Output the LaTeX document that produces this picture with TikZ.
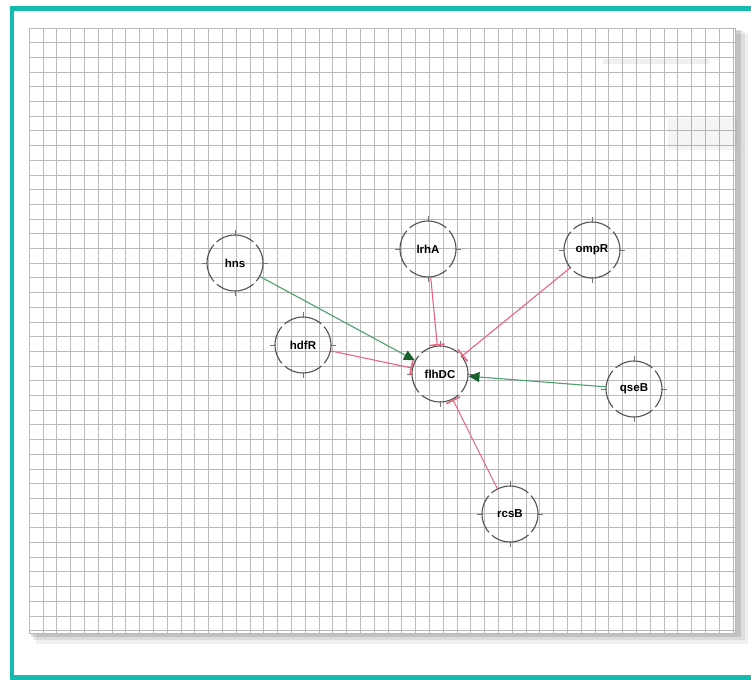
\documentclass[tikz,border=0pt]{standalone}
\usepackage{fontspec}
\setmainfont{Liberation Sans}
\usetikzlibrary{arrows.meta}

\definecolor{frameteal}{RGB}{22,186,174}
\definecolor{gridline}{RGB}{185,185,185}
\definecolor{ringgray}{RGB}{80,80,80}
\definecolor{actgreen}{RGB}{78,160,108}
\definecolor{tipgreen}{RGB}{24,96,44}
\definecolor{inhred}{RGB}{236,100,126}

\begin{document}
\begin{tikzpicture}[x=1pt,y=-1pt,
  gene/.style={circle, minimum size=56pt, inner sep=0pt, draw=ringgray,
    line width=1.1pt, dash pattern=on 40pt off 4pt, dash phase=20pt,
    font=\bfseries\fontsize{11.5}{11.5}\selectfont},
  tick/.style={draw=ringgray!80, line width=0.8pt},
  activates/.style={draw=actgreen, line width=1.1pt,
    -{Triangle[length=11pt,width=10pt,color=tipgreen,fill=tipgreen]}},
  represses/.style={draw=inhred, line width=1.1pt,
    -{Bar[width=15pt,line width=1.6pt]}},
  gridrule/.style={draw=gridline, line width=0.9pt},
]
% page and outer frame
\useasboundingbox[fill=white] (0,0) rectangle (751,679);
\draw[frameteal, line width=4.5pt] (12,8.5) rectangle (770,677.5);

% drop shadow of the sheet
\fill[black, opacity=0.06] (36,34) rectangle (748,644);
\fill[black, opacity=0.08] (33,31) rectangle (745,640);
\fill[black, opacity=0.12] (31,30) rectangle (741,637);

% grid sheet
\fill[white] (29,28) rectangle (735,633);
\foreach \i in {0,...,50}
  \draw[gridrule] ({43+13.8*\i},28) -- ({43+13.8*\i},633);
\foreach \j in {0,...,40}
  \draw[gridrule] (29,{42.7+14.7*\j}) -- (735,{42.7+14.7*\j});
\draw[gridrule] (29,28) rectangle (735,633);

% faint marks near the upper right
\fill[gray, opacity=0.12] (603,59) rectangle (709,64);
\fill[gray, opacity=0.08] (668,118) rectangle (738,150);

% genes
\node[gene] (hns)   at (235,263) {hns};
\node[gene] (hdfR)  at (303,345) {hdfR};
\node[gene] (lrhA)  at (428,249) {lrhA};
\node[gene] (ompR)  at (592,250) {ompR};
\node[gene] (flhDC) at (440,374) {flhDC};
\node[gene] (qseB)  at (634,389) {qseB};
\node[gene] (rcsB)  at (510,514) {rcsB};

% cardinal ticks on each ring
\foreach \n in {hns,hdfR,lrhA,ompR,flhDC,qseB,rcsB} {
  \draw[tick] (\n.north) ++(0,2) -- ++(0,-6);
  \draw[tick] (\n.south) ++(0,-2) -- ++(0,6);
  \draw[tick] (\n.west) ++(2,0) -- ++(-6,0);
  \draw[tick] (\n.east) ++(-2,0) -- ++(6,0);
}

% regulation of flhDC
\draw[activates] (hns) -- (flhDC);
\draw[activates] (qseB) -- (flhDC);
\draw[represses] (hdfR) -- (flhDC);
\draw[represses] (lrhA) -- (flhDC);
\draw[represses] (ompR) -- (flhDC);
\draw[represses] (rcsB) -- (flhDC);
\end{tikzpicture}
\end{document}
